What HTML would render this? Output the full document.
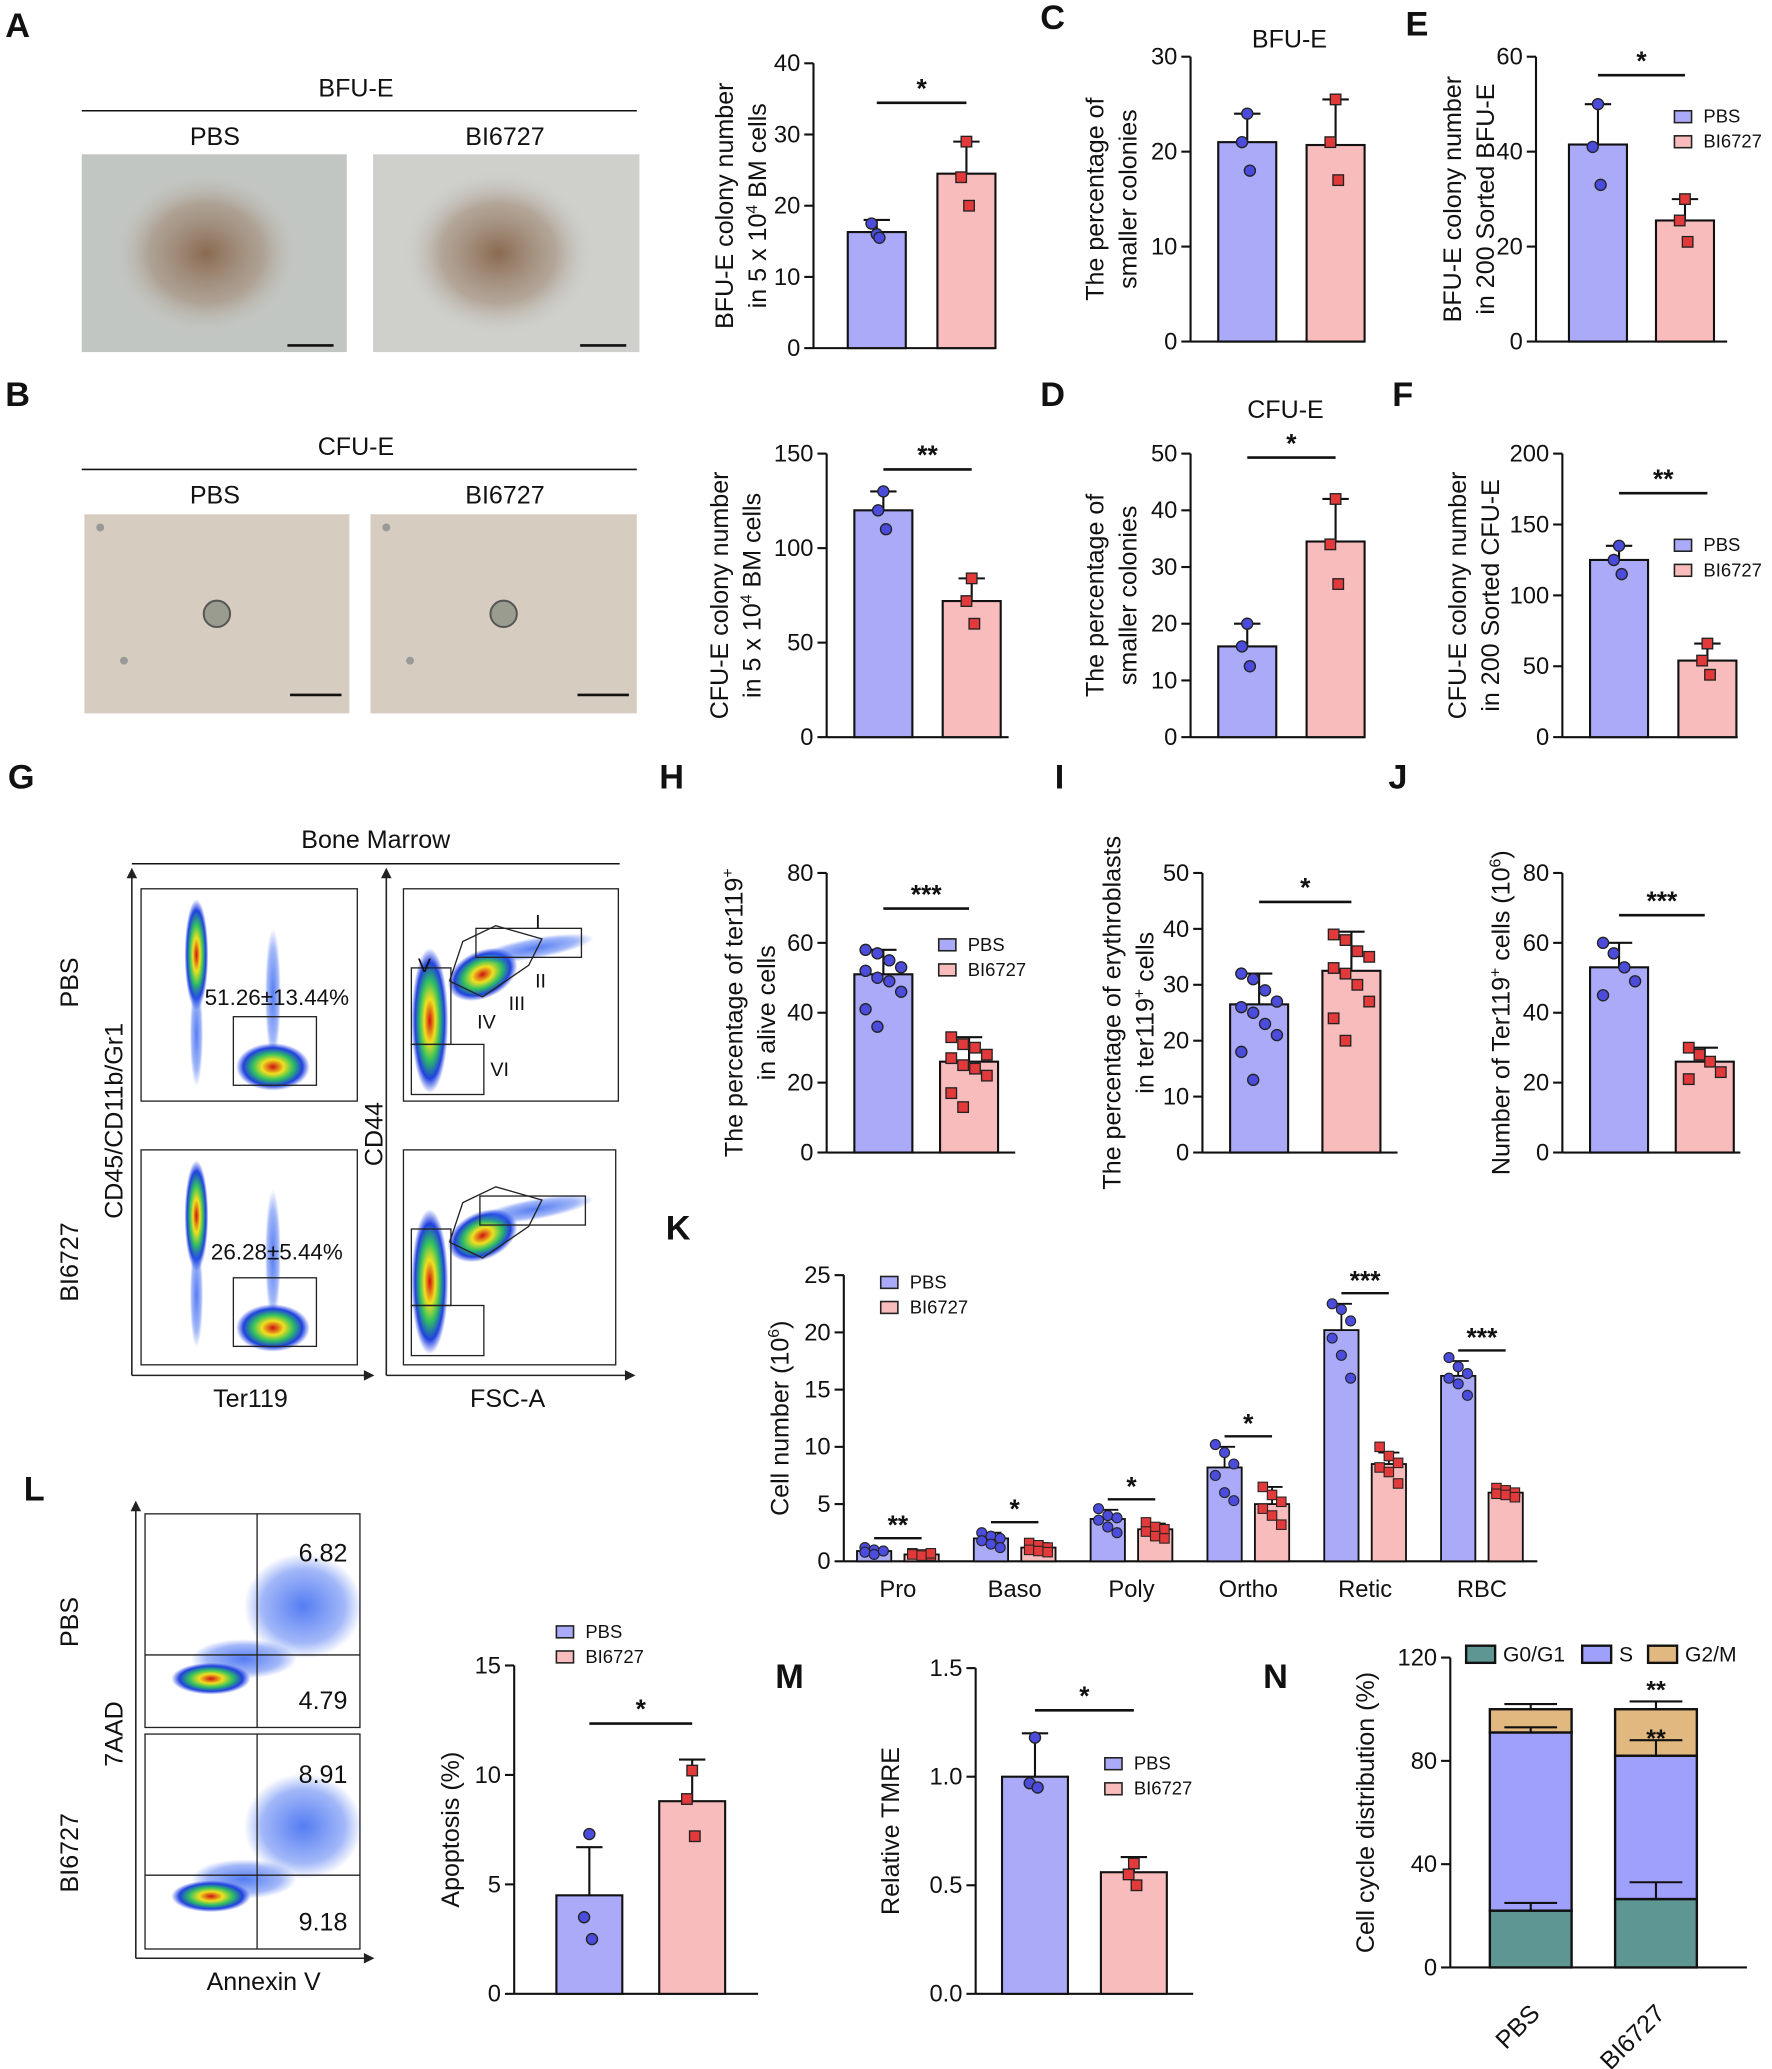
<!DOCTYPE html>
<html><head><meta charset="utf-8"><style>
html,body{margin:0;padding:0;background:#fff}
svg{display:block;font-family:"Liberation Sans",Arial,sans-serif}
</style></head><body>
<svg id="fig" xmlns="http://www.w3.org/2000/svg" width="1772" height="2069" viewBox="0 0 1344 1569" preserveAspectRatio="none">
<defs>
<radialGradient id="blob" cx="50%" cy="50%" r="50%"><stop offset="0" stop-color="#d01010"/><stop offset="0.3" stop-color="#f0e020"/><stop offset="0.55" stop-color="#30c060"/><stop offset="0.8" stop-color="#2040e0"/><stop offset="1" stop-color="#2040e0" stop-opacity="0"/></radialGradient>
<radialGradient id="blobB" cx="50%" cy="50%" r="50%"><stop offset="0" stop-color="#2a5cf0" stop-opacity="0.8"/><stop offset="0.7" stop-color="#3060f0" stop-opacity="0.45"/><stop offset="1" stop-color="#3060f0" stop-opacity="0"/></radialGradient>
<radialGradient id="colony" cx="50%" cy="50%" r="50%"><stop offset="0" stop-color="#8a6a50"/><stop offset="0.6" stop-color="#a08a76" stop-opacity="0.6"/><stop offset="1" stop-color="#c8c8c4" stop-opacity="0"/></radialGradient>
</defs>
<g id="root"></g>
</svg>
<script>
// ---------- DATA ----------
const groups2 = ["PBS","BI6727"];
const aVals = [16.3, 24.5]; const aErr = [18, 29]; const aPts = [[16,17.5,15.5],[29,24,20]];
const cVals = [21, 20.7]; const cErr = [24, 25.5]; const cPts = [[24,21,18],[25.5,21,17]];
const eVals = [41.5, 25.5]; const eErr = [50, 30]; const ePts = [[50,41,33],[30,25.5,21]];
const bVals = [120, 72]; const bErr = [130, 84]; const bPts = [[130,120,110],[84,72,60]];
const dVals = [16, 34.5]; const dErr = [20, 42]; const dPts = [[20,16,12.5],[42,34,27]];
const fVals = [125, 54]; const fErr = [135, 66]; const fPts = [[135,125,115],[66,54,44]];
const hVals = [51, 26]; const hErr = [58, 33];
const hPts = [[58,57,55,53,52,50,49,46,41,36],[33,31,30,28,27,25,24,22,17,13]];
const iVals = [26.5, 32.5]; const iErr = [32, 39.5];
const iPts = [[32,31,29,27,26,25,23,21,18,13],[39,38,36,35,33,32,30,27,24,20]];
const jVals = [53, 26]; const jErr = [60, 30];
const jPts = [[60,57,53,49,45],[30,28,26,23,21]];
const lVals = [4.5, 8.8]; const lErr = [6.7, 10.7]; const lPts = [[7.3,3.5,2.5],[10.2,8.9,7.2]];
const mVals = [1.0, 0.56]; const mErr = [1.2, 0.63]; const mPts = [[1.18,0.97,0.95],[0.6,0.55,0.5]];
const kCats = ["Pro","Baso","Poly","Ortho","Retic","RBC"];
const kPBS = [0.9, 2, 3.7, 8.2, 20.2, 16.2];
const kPBSerr = [1.1, 2.5, 4.5, 10, 22.5, 17.5];
const kBI = [0.6, 1.2, 2.8, 5, 8.5, 6];
const kBIerr = [0.7, 1.6, 3.3, 6.5, 9.5, 6.3];
const kPBSpts = [[1.2,1,0.9,0.8,0.6,0.9],[2.5,2.2,2,1.8,1.5,1.2],[4.6,4,3.8,3.6,3,2.5],[10.2,9.5,8.5,7.5,6,5.3],[22.5,22,21,19.5,18,16],[17.8,17,16.4,16,15.5,14.5]];
const kBIpts = [[0.7,0.6,0.5,0.6,0.5,0.7],[1.6,1.4,1.2,1,0.9,0.8],[3.4,3,2.8,2.6,2.2,2],[6.5,5.8,5.2,4.6,4,3.2],[10,9.2,8.6,8.2,7.8,6.8],[6.4,6.2,6,5.9,5.8,5.6]];
const kSig = ["**","*","*","*","***","***"];
const nSeries = ["G0/G1","S","G2/M"];
const nPBS = [22, 69, 9]; const nPBSerr = [25, 93, 102];
const nBI = [26.5, 55.5, 18]; const nBIerr = [33, 88, 103];

// ---------- HELPERS ----------
const NS="http://www.w3.org/2000/svg";
const root=document.getElementById('root');
const C_PBS="#aaaaf8", C_BI="#f9bcbc", P_PBS="#4b4bdc", P_BI="#e23a3a";
function el(tag,attrs,parent){const e=document.createElementNS(NS,tag);for(const k in attrs)e.setAttribute(k,attrs[k]);(parent||root).appendChild(e);return e;}
function txt(x,y,s,size,opt,parent){opt=opt||{};const t=el('text',{x:x,y:y,'font-size':size,'text-anchor':opt.anchor||'middle',fill:'#111','font-weight':opt.bold?'bold':'normal'},parent);if(opt.rot)t.setAttribute('transform','rotate('+opt.rot+' '+x+' '+y+')');t.textContent=s;return t;}
function ylabel(x,yMid,lines,size,parent){lines.forEach((l,i)=>{const t=el('text',{x:x+i*25,y:yMid,'font-size':size,'text-anchor':'middle',fill:'#111',transform:'rotate(-90 '+(x+i*25)+' '+yMid+')'},parent);t.innerHTML=l;});}

function axisY(g,ax,y0,ytop,ymax,ticks,fmt){
  const sc=v=>y0-(v/ymax)*(y0-ytop);
  el('line',{x1:ax,y1:y0,x2:ax,y2:ytop,stroke:'#111','stroke-width':1.6},g);
  ticks.forEach(t=>{el('line',{x1:ax-7,y1:sc(t),x2:ax,y2:sc(t),stroke:'#111','stroke-width':1.6},g);
    txt(ax-10,sc(t)+6,fmt?fmt(t):String(t),18,{anchor:'end'},g);});
  return sc;
}
function barPanel(name,cfg){
  const g=el('g',{},root);
  
  
  const sc=axisY(g,cfg.ax,cfg.y0,cfg.ytop,cfg.ymax,cfg.ticks,cfg.fmt);
  el('line',{x1:cfg.ax,y1:cfg.y0,x2:cfg.xend,y2:cfg.y0,stroke:'#111','stroke-width':1.6},g);
  const w=cfg.bw||44;
  cfg.vals.forEach((v,i)=>{
    const cx=cfg.cx[i];
    const fill=i==0?C_PBS:C_BI;
    el('line',{x1:cx,y1:sc(v),x2:cx,y2:sc(cfg.err[i]),stroke:'#111','stroke-width':1.6},g);
    el('line',{x1:cx-10,y1:sc(cfg.err[i]),x2:cx+10,y2:sc(cfg.err[i]),stroke:'#111','stroke-width':1.6},g);
    const r=el('rect',{x:cx-w/2,y:sc(v),width:w,height:cfg.y0-sc(v),fill:fill,stroke:'#111','stroke-width':1.6},g);
    
    
    const pts=cfg.pts[i], n=pts.length;
    pts.forEach((p,j)=>{
      const off = n<=3 ? [0,-4,2][j] : ((j%4)-1.5)*9*(n>6?1:0.9);
      const px=cx+off, py=sc(p);
      if(i==0){const c=el('circle',{cx:px,cy:py,r:4.2,fill:P_PBS,stroke:'#222','stroke-width':1},g);
        }
      else{const s=el('rect',{x:px-4,y:py-4,width:8,height:8,fill:P_BI,stroke:'#222','stroke-width':1},g);
        }
    });
  });
  if(cfg.sig){el('line',{x1:cfg.cx[0],y1:cfg.sigY,x2:cfg.cx[1],y2:cfg.sigY,stroke:'#111','stroke-width':2},g);
    txt((cfg.cx[0]+cfg.cx[1])/2,cfg.sigY-4,cfg.sig,20,{bold:true},g);}
  if(cfg.legend){legend(g,cfg.legend[0],cfg.legend[1]);}
  if(cfg.ylab)ylabel(cfg.ylab[0],(cfg.y0+cfg.ytop)/2,cfg.ylab[1],19,g);
  return g;
}
function legend(g,x,y){
  [["PBS",C_PBS],["BI6727",C_BI]].forEach((l,i)=>{
    const r=el('rect',{x:x,y:y+i*19-9,width:13,height:9,fill:l[1],stroke:'#222','stroke-width':1.2},g);
    
    txt(x+22,y+i*19,l[0],14,{anchor:'start'},g);
  });
}
function letter(s,x,y){const t=txt(x,y,s,26,{bold:true,anchor:'start'});}

// ---------- LETTERS ----------
[["A",4,28],["B",4,308],["C",789,22],["E",1066,27],["D",789,308],["F",1056,308],["G",6,598],["H",500,598],["I",800,598],["J",1053,598],["K",505,940],["L",18,1138],["M",588,1280],["N",958,1280]].forEach(a=>letter(a[0],a[1],a[2]));

// ---------- PHOTOS ----------
function photo(name,x,y,w,h,bg,type){
  const g=el('g',{},root);
  el('rect',{x:x,y:y,width:w,height:h,fill:bg},g);
  if(type=='bfu'){el('ellipse',{cx:x+w*0.47,cy:y+h*0.5,rx:w*0.36,ry:h*0.42,fill:'url(#colony)'},g);}
  else{el('circle',{cx:x+w*0.5,cy:y+h*0.5,r:10,fill:'#9a9c90',stroke:'#555','stroke-width':1.5},g);
       el('circle',{cx:x+12,cy:y+10,r:3,fill:'#999'},g);el('circle',{cx:x+30,cy:y+h-40,r:3,fill:'#999'},g);}
  el('line',{x1:x+w-45,y1:y+h-(type=='bfu'?5:14),x2:x+w-(type=='bfu'?10:6),y2:y+h-(type=='bfu'?5:14),stroke:'#111','stroke-width':2},g);
}
txt(270,73,"BFU-E",19);el('line',{x1:62,y1:84,x2:483,y2:84,stroke:'#111','stroke-width':1.2});
txt(163,110,"PBS",19);txt(383,110,"BI6727",19);
photo('bfu-e-pbs-photo',62,117,201,150,'#c2c6c2','bfu');photo('bfu-e-bi6727-photo',283,117,202,150,'#cfd0cc','bfu');
txt(270,345,"CFU-E",19);el('line',{x1:62,y1:356,x2:483,y2:356,stroke:'#111','stroke-width':1.2});
txt(163,382,"PBS",19);txt(383,382,"BI6727",19);
photo('cfu-e-pbs-photo',64,390,201,151,'#d6ccbf','cfu');photo('cfu-e-bi6727-photo',281,390,202,151,'#d6ccbf','cfu');

// ---------- FLOW G ----------
function flowPlot(name,x,y,w,h,kind,bi){
  const g=el('g',{},root);
  el('rect',{x:x,y:y,width:w,height:h,fill:'#fff',stroke:'#222','stroke-width':1},g);
  if(kind=='ter'){
    el('ellipse',{cx:x+42,cy:y+50,rx:9,ry:42,fill:'url(#blob)'},g);
    el('ellipse',{cx:x+42,cy:y+110,rx:5,ry:40,fill:'url(#blobB)'},g);
    el('ellipse',{cx:x+100,cy:y+80,rx:6,ry:50,fill:'url(#blobB)'},g);
    el('ellipse',{cx:x+100,cy:y+135,rx:28,ry:18,fill:'url(#blob)'},g);
    el('rect',{x:x+70,y:y+97,width:63,height:52,fill:'none',stroke:'#222','stroke-width':1},g);
  } else {
    el('ellipse',{cx:x+20,cy:y+100,rx:14,ry:55,fill:'url(#blob)'},g);
    el('ellipse',{cx:x+60,cy:y+65,rx:28,ry:18,fill:'url(#blob)',transform:'rotate(-25 '+(x+60)+' '+(y+65)+')'},g);
    el('ellipse',{cx:x+100,cy:y+45,rx:45,ry:8,fill:'url(#blobB)',transform:'rotate(-10 '+(x+100)+' '+(y+45)+')'},g);
    const o=bi?[3,5]:[0,0];
    el('rect',{x:x+55+o[0],y:y+30+o[1],width:80,height:22,fill:'none',stroke:'#222'},g);
    el('polyline',{points:(x+35)+','+(y+70)+' '+(x+45)+','+(y+40)+' '+(x+70)+','+(y+28)+' '+(x+105)+','+(y+38)+' '+(x+95)+','+(y+58)+' '+(x+60)+','+(y+82)+' '+(x+35)+','+(y+70),fill:'none',stroke:'#222'},g);
    el('rect',{x:x+6,y:y+60,width:30,height:58,fill:'none',stroke:'#222'},g);
    el('rect',{x:x+6,y:y+118,width:55,height:38,fill:'none',stroke:'#222'},g);
    if(!bi){txt(x+102,y+30,"I",15,{},g);txt(x+104,y+75,"II",15,{},g);txt(x+86,y+92,"III",15,{},g);txt(x+63,y+106,"IV",15,{},g);txt(x+16,y+63,"V",15,{},g);txt(x+73,y+142,"VI",15,{},g);}
  }
}
txt(285,643,"Bone Marrow",19);el('line',{x1:100,y1:655,x2:470,y2:655,stroke:'#111','stroke-width':1.2});
flowPlot('flow-pbs-ter119',107,674,164,161,'ter',false);flowPlot('flow-bi6727-ter119',107,872,164,163,'ter',true);
flowPlot('flow-pbs-cd44',306,674,163,161,'cd',false);flowPlot('flow-bi6727-cd44',306,872,161,163,'cd',true);
txt(210,762,"51.26±13.44%",17);txt(210,955,"26.28±5.44%",17);
[[100,1043,100,662],[100,1043,280,1043],[293,1043,293,662],[293,1043,478,1043]].forEach(l=>{el('line',{x1:l[0],y1:l[1],x2:l[2],y2:l[3],stroke:'#222','stroke-width':1.2});});
el('path',{d:'M96,666 L100,658 L104,666 Z M276,1039 L284,1043 L276,1047 Z M289,666 L293,658 L297,666 Z M474,1039 L482,1043 L474,1047 Z',fill:'#222'});
txt(59,745,"PBS",19,{rot:-90});txt(59,957,"BI6727",19,{rot:-90});
txt(93,850,"CD45/CD11b/Gr1",19,{rot:-90});txt(290,860,"CD44",19,{rot:-90});
txt(190,1067,"Ter119",19);txt(385,1067,"FSC-A",19);

// ---------- FLOW L ----------
function annexin(name,x,y,w,h,cy){
  const g=el('g',{},root);
  el('rect',{x:x,y:y,width:w,height:h,fill:'#fff',stroke:'#222'},g);
  el('ellipse',{cx:x+120,cy:y+70,rx:45,ry:40,fill:'url(#blobB)'},g);
  el('ellipse',{cx:x+75,cy:y+110,rx:40,ry:15,fill:'url(#blobB)'},g);
  el('ellipse',{cx:x+50,cy:y+cy,rx:30,ry:12,fill:'url(#blob)'},g);
  el('line',{x1:x+85,y1:y,x2:x+85,y2:y+h,stroke:'#222'},g);
  el('line',{x1:x,y1:y+107,x2:x+w,y2:y+107,stroke:'#222'},g);
}
annexin('flow-l-pbs',110,1148,163,162,125);annexin('flow-l-bi6727',110,1315,163,163,123);
txt(245,1184,"6.82",19);txt(245,1296,"4.79",19);txt(245,1352,"8.91",19);txt(245,1464,"9.18",19);
el('line',{x1:103,y1:1485,x2:103,y2:1142,stroke:'#222','stroke-width':1.2});el('line',{x1:103,y1:1485,x2:280,y2:1485,stroke:'#222','stroke-width':1.2});
el('path',{d:'M99,1146 L103,1138 L107,1146 Z M276,1481 L284,1485 L276,1489 Z',fill:'#222'});
txt(59,1230,"PBS",19,{rot:-90});txt(59,1405,"BI6727",19,{rot:-90});txt(93,1315,"7AAD",19,{rot:-90});txt(200,1509,"Annexin V",19);

// ---------- BAR PANELS ----------
barPanel('chart-a',{ax:617,y0:264,ytop:48,ymax:40,ticks:[0,10,20,30,40],xend:755,cx:[665,733],vals:aVals,err:aErr,pts:aPts,sig:"*",sigY:78,ylab:[556,["BFU-E colony number","in 5 x 10<tspan font-size='12' dy='-7'>4</tspan><tspan dy='7'> BM cells</tspan>"]]});
barPanel('chart-c',{ax:903,y0:259,ytop:43,ymax:30,ticks:[0,10,20,30],xend:1035,cx:[946,1013],vals:cVals,err:cErr,pts:cPts,ylab:[837,["The percentage of","smaller colonies"]]});
txt(978,36,"BFU-E",19);
barPanel('chart-e',{ax:1165,y0:259,ytop:43,ymax:60,ticks:[0,20,40,60],xend:1310,cx:[1212,1278],vals:eVals,err:eErr,pts:ePts,sig:"*",sigY:57,legend:[1270,93],ylab:[1108,["BFU-E colony number","in 200 Sorted BFU-E"]]});
barPanel('chart-b',{ax:627,y0:559,ytop:344,ymax:150,ticks:[0,50,100,150],xend:765,cx:[670,737],vals:bVals,err:bErr,pts:bPts,sig:"**",sigY:356,ylab:[552,["CFU-E colony number","in 5 x 10<tspan font-size='12' dy='-7'>4</tspan><tspan dy='7'> BM cells</tspan>"]]});
barPanel('chart-d',{ax:903,y0:559,ytop:344,ymax:50,ticks:[0,10,20,30,40,50],xend:1035,cx:[946,1013],vals:dVals,err:dErr,pts:dPts,sig:"*",sigY:347,ylab:[837,["The percentage of","smaller colonies"]]});
txt(975,317,"CFU-E",19);
barPanel('chart-f',{ax:1185,y0:559,ytop:344,ymax:200,ticks:[0,50,100,150,200],xend:1318,cx:[1228,1295],vals:fVals,err:fErr,pts:fPts,sig:"**",sigY:374,legend:[1270,418],ylab:[1112,["CFU-E colony number","in 200 Sorted CFU-E"]]});
barPanel('chart-h',{ax:627,y0:874,ytop:662,ymax:80,ticks:[0,20,40,60,80],xend:770,cx:[670,735],vals:hVals,err:hErr,pts:hPts,sig:"***",sigY:689,legend:[712,721],ylab:[563,["The percentage of ter119<tspan font-size='12' dy='-7'>+</tspan>","<tspan dy='0'>in alive cells</tspan>"]]});
barPanel('chart-i',{ax:912,y0:874,ytop:662,ymax:50,ticks:[0,10,20,30,40,50],xend:1060,cx:[955,1025],vals:iVals,err:iErr,pts:iPts,sig:"*",sigY:684,ylab:[850,["The percentage of erythroblasts","in ter119<tspan font-size='12' dy='-7'>+</tspan><tspan dy='7'> cells</tspan>"]]});
barPanel('chart-j',{ax:1185,y0:874,ytop:662,ymax:80,ticks:[0,20,40,60,80],xend:1320,cx:[1228,1293],vals:jVals,err:jErr,pts:jPts,sig:"***",sigY:694,ylab:[1145,["Number of Ter119<tspan font-size='12' dy='-7'>+</tspan><tspan dy='7'> cells (10</tspan><tspan font-size='12' dy='-7'>6</tspan><tspan dy='7'>)</tspan>"]]});
barPanel('chart-l',{ax:390,y0:1512,ytop:1263,ymax:15,ticks:[0,5,10,15],xend:575,cx:[447,525],bw:50,vals:lVals,err:lErr,pts:lPts,sig:"*",sigY:1307,legend:[422,1242],ylab:[348,["Apoptosis (%)"]]});
barPanel('chart-m',{ax:740,y0:1512,ytop:1265,ymax:1.5,ticks:[0,0.5,1,1.5],fmt:t=>t.toFixed(1),xend:905,cx:[785,860],bw:50,vals:mVals,err:mErr,pts:mPts,sig:"*",sigY:1297,legend:[838,1342],ylab:[682,["Relative TMRE"]]});

// ---------- K ----------
(function(){
  const g=el('g',{},root);
  const ax=640,y0=1184,ytop=967,ymax=25;
  const sc=axisY(g,ax,y0,ytop,ymax,[0,5,10,15,20,25]);
  el('line',{x1:ax,y1:y0,x2:1166,y2:y0,stroke:'#111','stroke-width':1.6},g);
  const step=88.6, first=681, bw=26;
  kCats.forEach((c,i)=>{
    const cx=first+i*step;
    txt(cx,1211,c,18,{},g);
    [[kPBS,kPBSerr,kPBSpts,C_PBS,-18,'pbs'],[kBI,kBIerr,kBIpts,C_BI,18,'bi6727']].forEach(s=>{
      const bx=cx+s[4], v=s[0][i], e=s[1][i];
      el('line',{x1:bx,y1:sc(v),x2:bx,y2:sc(e),stroke:'#111','stroke-width':1.4},g);
      el('line',{x1:bx-8,y1:sc(e),x2:bx+8,y2:sc(e),stroke:'#111','stroke-width':1.4},g);
      const r=el('rect',{x:bx-bw/2,y:sc(v),width:bw,height:y0-sc(v),fill:s[3],stroke:'#111','stroke-width':1.4},g);
      
      s[2][i].forEach((p,j)=>{const px=bx+((j%3)-1)*7, py=sc(p);
        if(s[5]=='pbs'){const q=el('circle',{cx:px,cy:py,r:3.8,fill:P_PBS,stroke:'#222','stroke-width':0.8},g);}
        else{const q=el('rect',{x:px-3.6,y:py-3.6,width:7.2,height:7.2,fill:P_BI,stroke:'#222','stroke-width':0.8},g);}
      });
    });
    const sy=sc(Math.max(kPBSerr[i],kBIerr[i]))-8;
    el('line',{x1:cx-18,y1:sy,x2:cx+18,y2:sy,stroke:'#111','stroke-width':1.8},g);
    txt(cx,sy-3,kSig[i],20,{bold:true},g);
  });
  legend(g,668,977);
  ylabel(598,(y0+ytop)/2,["Cell number (10<tspan font-size='12' dy='-7'>6</tspan><tspan dy='7'>)</tspan>"],19,g);
})();

// ---------- N ----------
(function(){
  const g=el('g',{},root);
  const ax=1100,y0=1492,ytop=1257,ymax=120;
  const sc=axisY(g,ax,y0,ytop,ymax,[0,40,80,120]);
  el('line',{x1:ax,y1:y0,x2:1325,y2:y0,stroke:'#111','stroke-width':1.6},g);
  const cols=["#5e9693","#9f9ffc","#e2b881"];
  [[nPBS,nPBSerr,1161,'PBS'],[nBI,nBIerr,1256,'BI6727']].forEach(b=>{
    let base=0;
    b[0].forEach((v,k)=>{
      const top=base+v;
      const r=el('rect',{x:b[2]-31,y:sc(top),width:62,height:sc(base)-sc(top),fill:cols[k],stroke:'#111','stroke-width':1.8},g);
      
      base=top;
    });
    let cum=0;
    b[0].forEach((v,k)=>{cum+=v;const e=b[1][k];
      el('line',{x1:b[2],y1:sc(cum),x2:b[2],y2:sc(e),stroke:'#111','stroke-width':1.6},g);
      el('line',{x1:b[2]-20,y1:sc(e),x2:b[2]+20,y2:sc(e),stroke:'#111','stroke-width':1.6},g);});
    txt(b[2]+8,1528,b[3],19,{rot:-45,anchor:'end'},g);
  });
  txt(1256,1325,"**",19,{bold:true},g);txt(1256,1288,"**",19,{bold:true},g);
  nSeries.forEach((s,k)=>{const x=[1112,1200,1250][k];
    const r=el('rect',{x:x,y:1248,width:22,height:13,fill:cols[k],stroke:'#111','stroke-width':1.8},g);
    
    txt(x+28,1260,s,16,{anchor:'start'},g);});
  ylabel(1042,(y0+ytop)/2,["Cell cycle distribution (%)"],19,g);
})();
</script>
</body></html>
